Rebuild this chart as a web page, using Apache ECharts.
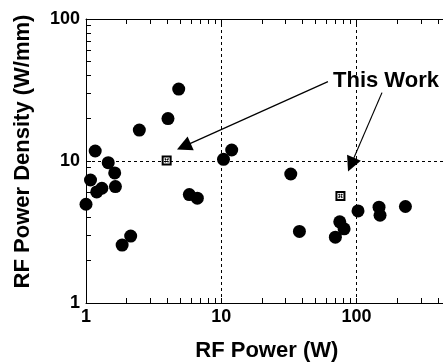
<!DOCTYPE html>
<html lang="en">
<head>
  <meta charset="UTF-8">
  <title>RF Power Density</title>
  <script src="https://cdn.jsdelivr.net/npm/echarts@6/dist/echarts.min.js"></script>
  <style>
    body { margin: 0; background: #fff; }
  </style>
</head>
<body>
  <div id="main" style="width: 443px;height:362px;"></div>

  <script type="text/javascript">
    // published devices: [RF power (W), power density (W/mm)]
    let rfPower = [1.0, 1.08, 1.17, 1.2, 1.31, 1.46, 1.63, 1.65, 1.85, 2.14, 2.48, 4.04, 4.85,
      5.81, 6.66, 10.4, 11.96, 32.7, 37.9, 69.9, 75.3, 81.1, 102.8, 147, 149.6, 230.5];
    let powerDensity = [4.96, 7.35, 11.76, 6.06, 6.43, 9.73, 8.24, 6.6, 2.56, 2.96, 16.5, 19.9, 32.1,
      5.8, 5.47, 10.27, 11.95, 8.1, 3.19, 2.91, 3.73, 3.33, 4.45, 4.73, 4.15, 4.78];

    // this work
    let thisPower = [3.95, 76.2];
    let thisDensity = [10.1, 5.68];

    // annotation arrows: start -> end (data units)
    let arrowFrom = [[61.6, 36.2], [154.6, 30.3]];
    let arrowTo = [[5.29, 12.67], [91.2, 9.43]];

    let xMinor = [];
    let yMinor = [];
    [1, 10, 100].forEach(d => { for (let k = 1; k < 10; k++) { xMinor.push(d * k); } });
    [1, 10].forEach(d => { for (let k = 1; k < 10; k++) { yMinor.push(d * k); } });
    xMinor.push(1000);
    yMinor.push(100);
    let xTicks = [1, 10, 100];
    let yTicks = [1, 10, 100];

    let font = '"Liberation Sans", Arial, sans-serif';

    let published = rfPower.map((x, i) => [x, powerDensity[i]]);
    let ours = thisPower.map((x, i) => [x, thisDensity[i]]);

    // boxed x marker
    let boxCross = 'path://M0,0H10V10H0Z M2,2V8H8V2Z' +
      'M2.6,3.6L3.6,2.6L7.4,6.4L6.4,7.4Z M7.4,3.6L6.4,2.6L2.6,6.4L3.6,7.4Z';

    function axisBase(pos, showLabel, labels) {
      return {
        type: 'log',
        logBase: 10,
        position: pos,
        axisLine: { show: true, lineStyle: { color: '#000', width: 1 } },
        axisTick: { show: true, inside: true, length: 5, customValues: null, lineStyle: { color: '#000', width: 1 } },
        axisLabel: {
          show: showLabel,
          customValues: labels,
          color: '#000', fontFamily: font, fontWeight: 'bold', fontSize: 18
        },
        splitLine: { show: false }
      };
    }

    let xBottom = axisBase('bottom', true, xTicks);
    xBottom.min = 1; xBottom.max = 1000;
    xBottom.axisTick.customValues = xMinor;
    xBottom.axisLabel.margin = 5;
    xBottom.name = 'RF Power (W)';
    xBottom.nameLocation = 'middle';
    xBottom.nameGap = 37;
    xBottom.nameTextStyle = { color: '#000', fontFamily: font, fontWeight: 'bold', fontSize: 22, padding: [0, 44, 0, 0] };

    let xTop = axisBase('top', false, xTicks);
    xTop.min = 1; xTop.max = 1000;
    xTop.axisTick.customValues = xMinor;

    let yLeft = axisBase('left', true, yTicks);
    yLeft.min = 1; yLeft.max = 100;
    yLeft.axisTick.customValues = yMinor;
    yLeft.axisLabel.margin = 6;
    yLeft.name = 'RF Power Density (W/mm)';
    yLeft.nameLocation = 'middle';
    yLeft.nameGap = 52;
    yLeft.nameTextStyle = { color: '#000', fontFamily: font, fontWeight: 'bold', fontSize: 22, padding: [0, 0, 0, 19] };

    let yRight = axisBase('right', false, yTicks);
    yRight.min = 1; yRight.max = 100;
    yRight.axisTick.customValues = yMinor;

    let dash = { color: '#000', width: 1, type: [3, 3] };

    let options = {
      animation: false,
      grid: { left: 86, top: 19, width: 405.6, height: 284, outerBoundsMode: 'none', containLabel: false },
      xAxis: [xBottom, xTop],
      yAxis: [yLeft, yRight],
      graphic: [{
        type: 'text',
        left: 333,
        top: 70,
        style: { text: 'This Work', fill: '#000', font: 'bold 22px ' + font }
      }],
      series: [
        {
          name: 'published',
          type: 'scatter',
          data: published,
          symbol: 'circle',
          symbolSize: 13,
          itemStyle: { color: '#000', opacity: 1 },
          z: 3,
          markLine: {
            silent: true,
            symbol: 'none',
            label: { show: false },
            lineStyle: dash,
            data: [{ xAxis: 10 }, { xAxis: 100 }, { yAxis: 10 }],
            z: 1
          }
        },
        {
          name: 'this work',
          type: 'scatter',
          data: ours,
          symbol: boxCross,
          symbolSize: 10,
          itemStyle: { color: '#000', opacity: 1 },
          z: 4,
          markLine: {
            silent: true,
            symbol: ['none', 'triangle'],
            symbolSize: 15,
            label: { show: false },
            lineStyle: { color: '#000', width: 1.2, type: 'solid' },
            itemStyle: { color: '#000' },
            data: arrowFrom.map((p, i) => [{ coord: p }, { coord: arrowTo[i] }])
          }
        }
      ]
    };

    let myChart = echarts.init(document.getElementById('main'));
    myChart.setOption(options);
  </script>
</body>
</html>
